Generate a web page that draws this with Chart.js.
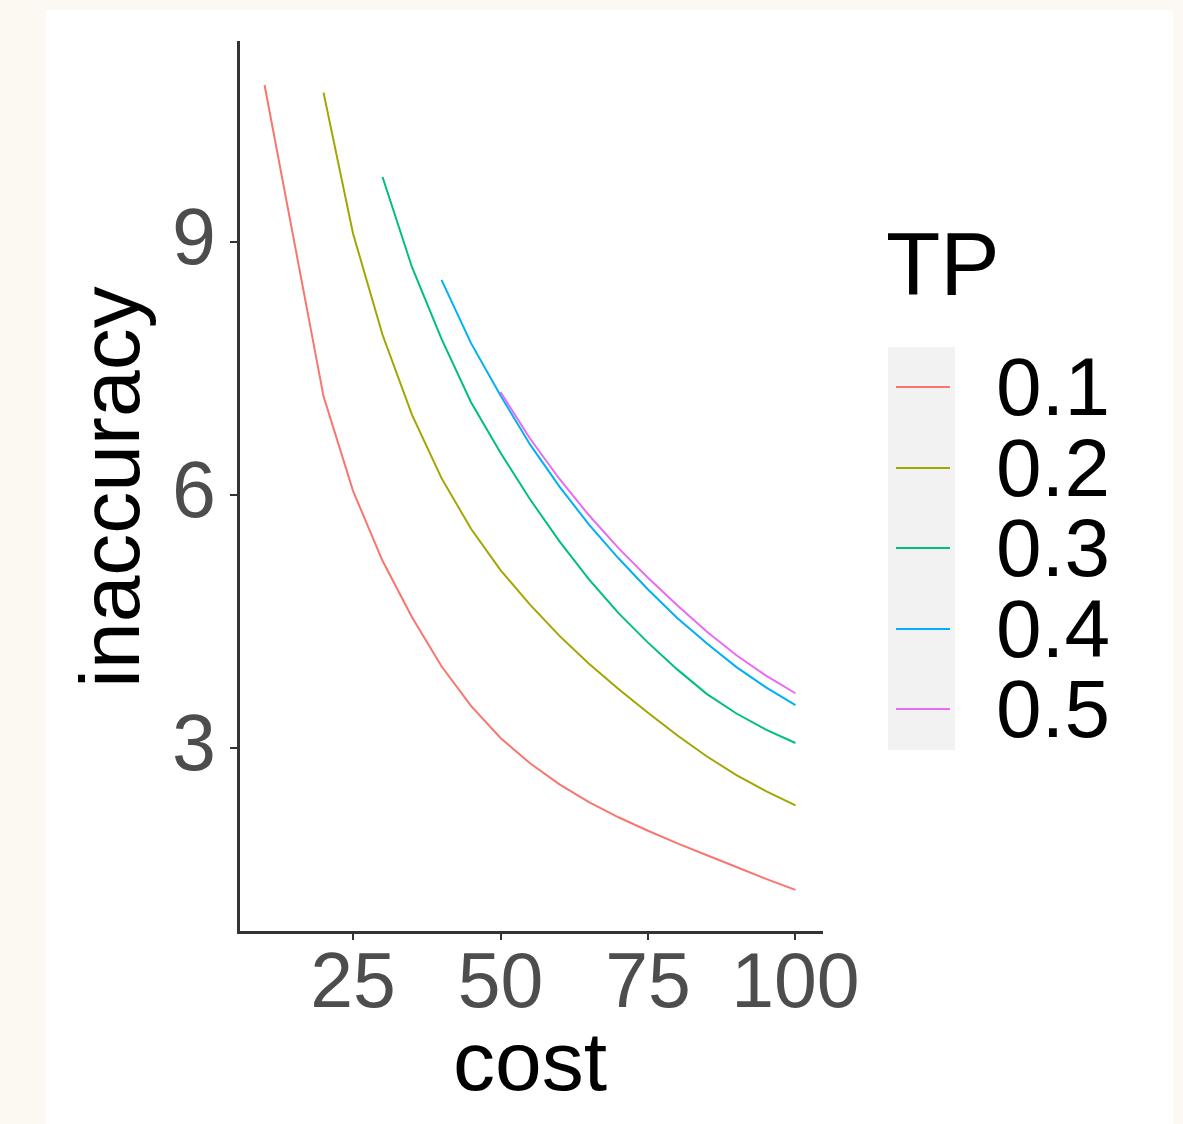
<!DOCTYPE html>
<html>
<head>
<meta charset="utf-8">
<script src="https://cdn.jsdelivr.net/npm/chart.js@4.4.1/dist/chart.umd.min.js"></script>
<style>
  html, body { margin:0; padding:0; }
  body { width:1183px; height:1124px; background:#fcf8f2; position:relative; overflow:hidden; font-family:"Liberation Sans", Arial, sans-serif; }
  #panel { position:absolute; left:46px; top:10px; width:1127px; height:1114px; background:#fff; }
  #plot { position:absolute; left:0; top:0; }
  #legend { position:absolute; left:886px; top:216px; }
  #legend .ttl { font-size:89px; line-height:96px; color:#000; margin-bottom:35px; }
  #legend .row { display:flex; align-items:center; height:80.5px; }
  #legend .key { width:67px; height:80.5px; background:#f2f2f2; position:relative; margin-left:2px; }
  #legend .key i { position:absolute; left:8px; right:5px; top:39px; height:2px; }
  #legend .lbl { font-size:82px; line-height:80.5px; color:#000; margin-left:41px; }
</style>
</head>
<body>
<div id="panel"></div>
<canvas id="plot" width="1183" height="1124"></canvas>
<div id="legend"></div>

<script>
// ---- data ----
const tpLevels = ['0.1', '0.2', '0.3', '0.4', '0.5'];
const seriesColors = ['#F8766D', '#A3A500', '#00BF7D', '#00B0F6', '#E76BF3'];

const cost01 = [10, 20, 25, 30, 35, 40, 45, 50, 55, 60, 65, 70, 75, 80, 85, 90, 95, 100];
const inacc01 = [10.86, 7.17, 6.05, 5.22, 4.55, 3.97, 3.5, 3.12, 2.82, 2.57, 2.36, 2.18, 2.02, 1.87, 1.73, 1.59, 1.45, 1.32];

const cost02 = [20, 25, 30, 35, 40, 45, 50, 55, 60, 65, 70, 75, 80, 85, 90, 95, 100];
const inacc02 = [10.77, 9.1, 7.9, 6.95, 6.2, 5.6, 5.11, 4.7, 4.33, 4.0, 3.7, 3.42, 3.15, 2.9, 2.68, 2.49, 2.32];

const cost03 = [30, 35, 40, 45, 50, 55, 60, 65, 70, 75, 80, 85, 90, 95, 100];
const inacc03 = [9.77, 8.7, 7.85, 7.1, 6.5, 5.95, 5.45, 5.0, 4.6, 4.25, 3.93, 3.64, 3.41, 3.22, 3.06];

const cost04 = [40, 45, 50, 55, 60, 65, 70, 75, 80, 85, 90, 95, 100];
const inacc04 = [8.55, 7.8, 7.18, 6.6, 6.1, 5.65, 5.25, 4.88, 4.54, 4.24, 3.96, 3.72, 3.51];

const cost05 = [50, 55, 60, 65, 70, 75, 80, 85, 90, 95, 100];
const inacc05 = [7.22, 6.67, 6.19, 5.76, 5.37, 5.02, 4.69, 4.38, 4.1, 3.86, 3.65];

const xTicks = [25, 50, 75, 100];
const yTicks = [3, 6, 9];

const costs = [cost01, cost02, cost03, cost04, cost05];
const inaccs = [inacc01, inacc02, inacc03, inacc04, inacc05];

// ---- chart ----
const datasets = tpLevels.map((tp, i) => ({
  label: tp,
  data: costs[i].map((c, j) => ({ x: c, y: inaccs[i][j] })),
  borderColor: seriesColors[i],
  borderWidth: 2,
  pointRadius: 0,
  tension: 0,
  fill: false,
  order: tpLevels.length - i
}));

const axisColor = '#333333';
const fam = '"Liberation Sans", Arial, sans-serif';

new Chart(document.getElementById('plot'), {
  type: 'line',
  data: { datasets },
  options: {
    responsive: false,
    animation: false,
    devicePixelRatio: 1,
    layout: { padding: { left: 60, top: 42, right: 361, bottom: 20 } },
    plugins: { legend: { display: false }, tooltip: { enabled: false } },
    scales: {
      x: {
        type: 'linear',
        min: 5.5, max: 104.5,
        afterBuildTicks: s => { s.ticks = xTicks.map(v => ({ value: v })); },
        afterFit: s => { s.height = 172; },
        grid: { display: true, drawOnChartArea: false, drawTicks: true, tickLength: 8, color: axisColor, lineWidth: 2 },
        border: { display: true, color: axisColor, width: 3 },
        ticks: { color: '#4d4d4d', font: { family: fam, size: 77, lineHeight: 1 }, padding: 7, maxRotation: 0, autoSkip: false },
        title: { display: true, text: 'cost', color: '#000', font: { family: fam, size: 84, lineHeight: 1 }, padding: { top: 0, bottom: -5 } }
      },
      y: {
        type: 'linear',
        min: 0.82, max: 11.37,
        afterBuildTicks: s => { s.ticks = yTicks.map(v => ({ value: v })); },
        afterFit: s => { s.width = 178; },
        grid: { display: true, drawOnChartArea: false, drawTicks: true, tickLength: 8, color: axisColor, lineWidth: 2 },
        border: { display: true, color: axisColor, width: 3 },
        ticks: { color: '#4d4d4d', font: { family: fam, size: 79, lineHeight: 0.7 }, padding: 14, autoSkip: false },
        title: { display: true, text: 'inaccuracy', color: '#000', font: { family: fam, size: 84, lineHeight: 1 }, padding: { top: 14, bottom: 0 } }
      }
    }
  }
});

// ---- legend (ggplot style keys) ----
const legend = document.getElementById('legend');
legend.innerHTML = '<div class="ttl">TP</div>' + tpLevels.map((tp, i) =>
  `<div class="row"><div class="key"><i style="background:${seriesColors[i]}"></i></div><div class="lbl">${tp}</div></div>`
).join('');
</script>
</body>
</html>
